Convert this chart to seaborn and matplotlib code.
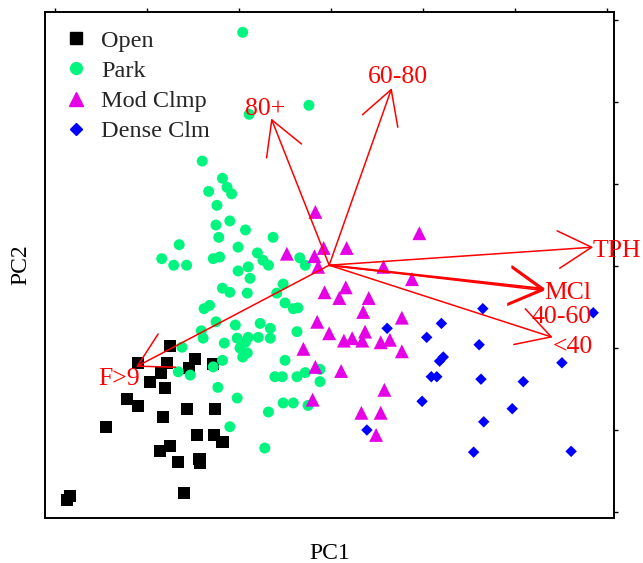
import numpy as np
import pandas as pd
import seaborn as sns
import matplotlib.pyplot as plt
from matplotlib.patches import FancyArrowPatch
from matplotlib.lines import Line2D

# ---------------- data (PC scores) ----------------
groups = ["Open", "Park", "Mod Clmp", "Dense Clm"]

open_x = [1.25, 0.90, 1.22, 1.15, 1.03, 1.20, 1.52, 1.46, 1.72, 0.78, 0.90, 1.17, 1.43,
          1.74, 0.55, 1.54, 1.73, 1.82, 1.14, 1.25, 1.34, 1.57, 1.58, 1.40, 0.16, 0.13]
open_y = [2.02, 1.82, 1.82, 1.70, 1.59, 1.51, 1.87, 1.76, 1.80, 1.38, 1.29, 1.16, 1.26,
          1.26, 1.04, 0.94, 0.94, 0.85, 0.74, 0.80, 0.61, 0.65, 0.60, 0.23, 0.20, 0.15]

park_x = [2.04, 2.76, 2.11, 1.60, 1.82, 1.87, 1.92, 1.67, 1.76, 1.75, 1.90, 2.07, 1.78,
          1.35, 1.99, 2.37, 2.20, 1.16, 1.29, 1.43, 1.72, 1.79, 2.26, 2.32, 1.99, 2.10,
          2.12, 2.66, 2.72, 1.82, 1.90, 2.09, 2.41, 2.48, 2.50, 1.68, 1.62, 2.59, 2.64,
          1.75, 1.96, 2.23, 2.34, 2.63, 1.59, 1.61, 1.84, 1.98, 2.07, 2.10, 2.01, 2.09,
          2.21, 2.34, 2.04, 1.38, 1.34, 1.47, 1.82, 1.72, 2.50, 2.39, 2.47, 2.63, 2.72,
          2.88, 2.88, 1.77, 1.98, 2.48, 2.59, 2.75, 2.32, 1.90, 2.28]
park_y = [5.85, 4.96, 4.85, 4.28, 4.07, 3.96, 3.88, 3.91, 3.74, 3.50, 3.55, 3.44, 3.35,
          3.26, 3.23, 3.35, 3.16, 3.09, 3.01, 3.01, 3.09, 3.11, 3.07, 3.01, 2.94, 2.99,
          2.85, 3.10, 3.01, 2.73, 2.68, 2.67, 2.67, 2.78, 2.55, 2.52, 2.48, 2.48, 2.49,
          2.32, 2.28, 2.30, 2.24, 2.20, 2.21, 2.12, 2.06, 2.12, 2.07, 2.13, 2.00, 1.94,
          2.13, 2.12, 1.89, 2.01, 1.71, 1.67, 1.85, 1.77, 1.85, 1.65, 1.65, 1.65, 1.70,
          1.74, 1.59, 1.52, 1.39, 1.33, 1.33, 1.30, 1.22, 1.04, 0.78]

mod_x = [2.83, 3.96, 2.52, 2.92, 3.17, 2.82, 2.86, 3.57, 3.88, 2.93, 3.16, 3.09, 3.41,
         3.35, 2.85, 3.77, 2.98, 3.37, 3.14, 3.23, 3.34, 3.54, 3.64, 3.77, 2.70, 2.83,
         3.11, 3.58, 2.80, 3.33, 3.54, 3.49]
mod_y = [3.66, 3.40, 3.15, 3.22, 3.22, 3.12, 2.99, 2.99, 2.84, 2.68, 2.74, 2.61, 2.61,
         2.44, 2.32, 2.37, 2.18, 2.20, 2.09, 2.12, 2.09, 2.07, 2.10, 1.96, 1.99, 1.77,
         1.72, 1.49, 1.37, 1.21, 1.21, 0.94]

dense_x = [4.65, 5.85, 4.20, 3.61, 4.04, 4.61, 4.22, 4.18, 5.51, 4.09, 4.15, 4.63, 5.09,
           3.99, 4.97, 4.66, 3.39, 4.55, 5.61]
dense_y = [2.48, 2.43, 2.30, 2.24, 2.13, 2.04, 1.89, 1.84, 1.82, 1.65, 1.65, 1.62, 1.59,
           1.35, 1.26, 1.10, 1.00, 0.73, 0.74]

# biplot vectors (origin and tips) and labels
vec_origin = (2.98, 3.01)
vec_names = ["80+", "60-80", "TPH", "MCl", "40-60", "<40", "F>9"]
vec_tip_x = [2.35, 3.66, 5.85, 5.33, 5.32, 5.41, 0.88]
vec_tip_y = [4.80, 5.17, 3.23, 2.72, 2.70, 2.13, 1.77]
lab_x = [2.28, 3.73, 6.11, 5.57, 5.51, 5.63, 0.70]
lab_y = [4.91, 5.30, 3.18, 2.67, 2.38, 2.01, 1.62]

tick_pos = [0, 1, 2, 3, 4, 5, 6]

# ---------------- build frame ----------------
df = pd.concat([
    pd.DataFrame({"PC1": open_x, "PC2": open_y, "group": "Open"}),
    pd.DataFrame({"PC1": park_x, "PC2": park_y, "group": "Park"}),
    pd.DataFrame({"PC1": mod_x, "PC2": mod_y, "group": "Mod Clmp"}),
    pd.DataFrame({"PC1": dense_x, "PC2": dense_y, "group": "Dense Clm"}),
], ignore_index=True)

palette = {"Open": "#000000", "Park": "#00f57f", "Mod Clmp": "#e600e6", "Dense Clm": "#0000ff"}
markers = {"Open": "s", "Park": "o", "Mod Clmp": "^", "Dense Clm": "D"}
sizes = {"Open": 76, "Park": 62, "Mod Clmp": 100, "Dense Clm": 34}

sns.set_theme(style="white")
plt.rcParams['font.family'] = ['Liberation Serif', 'DejaVu Serif']

fig = plt.figure(figsize=(6.43, 5.63), dpi=100)
ax = fig.add_axes([45 / 643, 45 / 563, 569 / 643, 506 / 563])

sns.scatterplot(data=df, x="PC1", y="PC2", hue="group", style="group", size="group",
                palette=palette, markers=markers, sizes=sizes, hue_order=groups,
                style_order=groups, size_order=groups, linewidth=0, legend=False, ax=ax)

ax.set_xlim(-0.109, 6.076)
ax.set_ylim(-0.073, 6.098)

# biplot arrows
for i, name in enumerate(vec_names):
    lw = 1.5 if name == "MCl" else 1.1
    arr = FancyArrowPatch(vec_origin, (vec_tip_x[i], vec_tip_y[i]),
                          arrowstyle="->,head_length=24,head_width=13.5",
                          mutation_scale=1, color="red", lw=lw,
                          shrinkA=0, shrinkB=0, zorder=5)
    ax.add_patch(arr)
    ax.text(lab_x[i], lab_y[i], name, color="red", fontsize=18.5,
            ha="center", va="center", clip_on=False, zorder=6)

# axes styling
ax.set_xticks(tick_pos)
ax.set_yticks(tick_pos)
ax.tick_params(top=True, right=True, bottom=False, left=False,
               labeltop=False, labelright=False, labelbottom=False, labelleft=False,
               direction="out", length=3, width=1, color="black")
for sp in ax.spines.values():
    sp.set_visible(True)
    sp.set_color("black")
    sp.set_linewidth(1.4)
ax.set_xlabel("PC1", fontsize=17, labelpad=18, color="black")
ax.set_ylabel("PC2", fontsize=17, labelpad=10, color="black")

handles = [
    Line2D([], [], marker="s", color=palette["Open"], linestyle="", markersize=8.5),
    Line2D([], [], marker="o", color=palette["Park"], linestyle="", markersize=8.5),
    Line2D([], [], marker="^", color=palette["Mod Clmp"], linestyle="", markersize=10.5),
    Line2D([], [], marker="D", color=palette["Dense Clm"], linestyle="", markersize=5.8),
]
ax.legend(handles, groups, loc="upper left", frameon=False, fontsize=17.5,
          bbox_to_anchor=(0.007, 0.994), borderaxespad=0.3, handlelength=1.0,
          handletextpad=0.55, labelspacing=0.34, borderpad=0.3)

fig.savefig("out.png", dpi=100)
